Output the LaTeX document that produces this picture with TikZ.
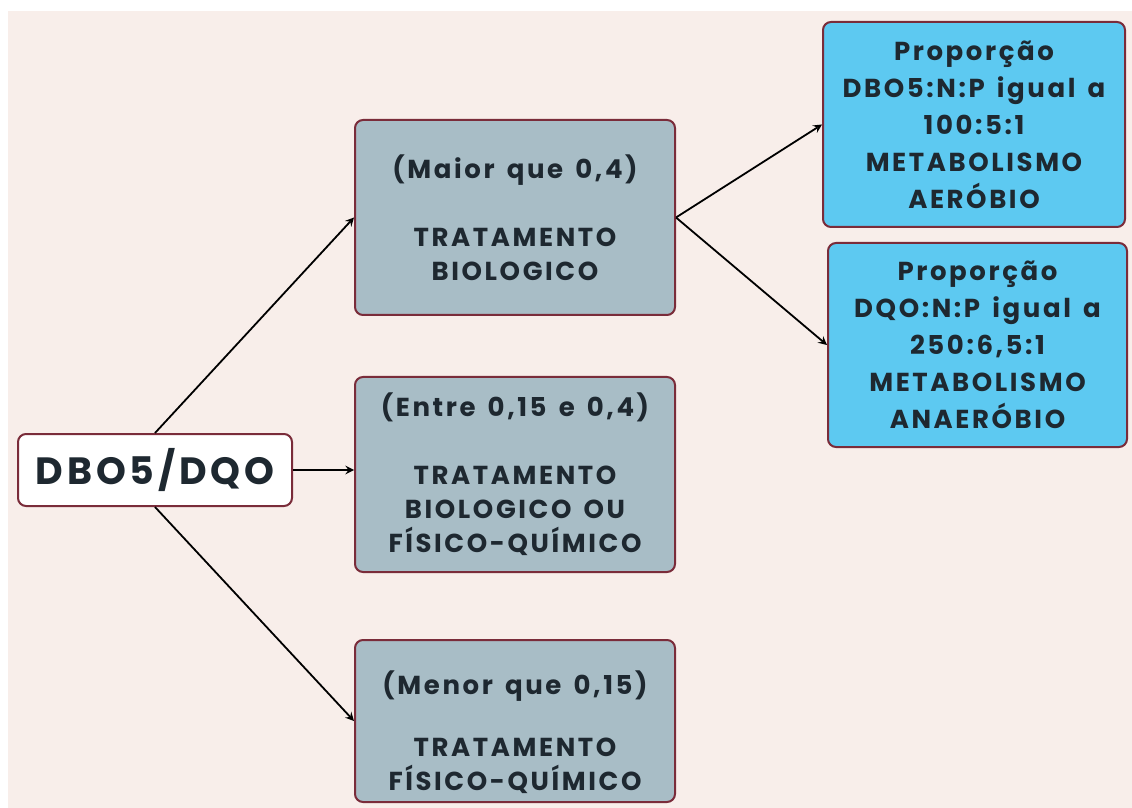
\documentclass[tikz,border=0pt]{standalone}
\usepackage{fontspec}
\setmainfont{Poppins}[LetterSpace=10,WordSpace=1.5]
\usetikzlibrary{positioning,arrows}

\definecolor{bgcream}{HTML}{F8EEEA}
\definecolor{boxgrey}{HTML}{A8BDC6}
\definecolor{boxblue}{HTML}{5DC9F1}
\definecolor{boxline}{HTML}{7A2C3A}
\definecolor{inkdark}{HTML}{1E2830}

\begin{document}
\begin{tikzpicture}[
		x=0.5pt, y=-0.5pt,
		base/.style={
			draw=boxline,
			line width=1pt,
			rounded corners=4pt,
			align=center,
			text=inkdark,
			inner sep=0pt
		},
		ratio/.style={
			base,
			fill=white,
			minimum width=137pt,
			minimum height=36pt,
			font=\bfseries\fontsize{19}{22}\selectfont
		},
		treat/.style={
			base,
			fill=boxgrey,
			minimum width=160pt,
			font=\bfseries\fontsize{13}{17}\selectfont
		},
		meta/.style={
			base,
			fill=boxblue,
			font=\bfseries\fontsize{13}{18.5}\selectfont
		},
		link/.style={
			->,
			line width=0.9pt,
			black
		},
		>=stealth
		]
		% background
		\fill[white] (0,0) rectangle (1132,808);
		\fill[bgcream] (8,11) rectangle (1132,808);

		\node[ratio] (dbo) at (155,470) {DBO5/DQO};

		\node[treat, minimum height=97.5pt] (maior) at (515,217.5)
			{(Maior que 0,4)\\[17pt] TRATAMENTO\\ BIOLOGICO};
		\node[treat, minimum height=97.5pt] (entre) at (515,474.5)
			{(Entre 0,15 e 0,4)\\[17pt] TRATAMENTO\\ BIOLOGICO OU\\ FÍSICO-QUÍMICO};
		\node[treat, minimum height=81pt] (menor) at (515,721)
			{\rule{0pt}{23pt}(Menor que 0,15)\\[14pt] TRATAMENTO\\ FÍSICO-QUÍMICO};

		\node[meta, minimum width=151pt, minimum height=102.5pt] (aerobio) at (974,124.5)
			{Proporção\\ DBO5:N:P igual a\\ 100:5:1\\ METABOLISMO\\ AERÓBIO};
		\node[meta, minimum width=149.5pt, minimum height=102pt] (anaerobio) at (977.5,345)
			{Proporção\\ DQO:N:P igual a\\ 250:6,5:1\\ METABOLISMO\\ ANAERÓBIO};

		\draw[link] (dbo.north) -- (maior.west);
		\draw[link] (dbo.east) -- (dbo.east -| entre.west);
		\draw[link] (dbo.south) -- (menor.west);
		\foreach \dest in {aerobio,anaerobio}
			\draw[link] (maior.east) -- (\dest.west);
\end{tikzpicture}
\end{document}
